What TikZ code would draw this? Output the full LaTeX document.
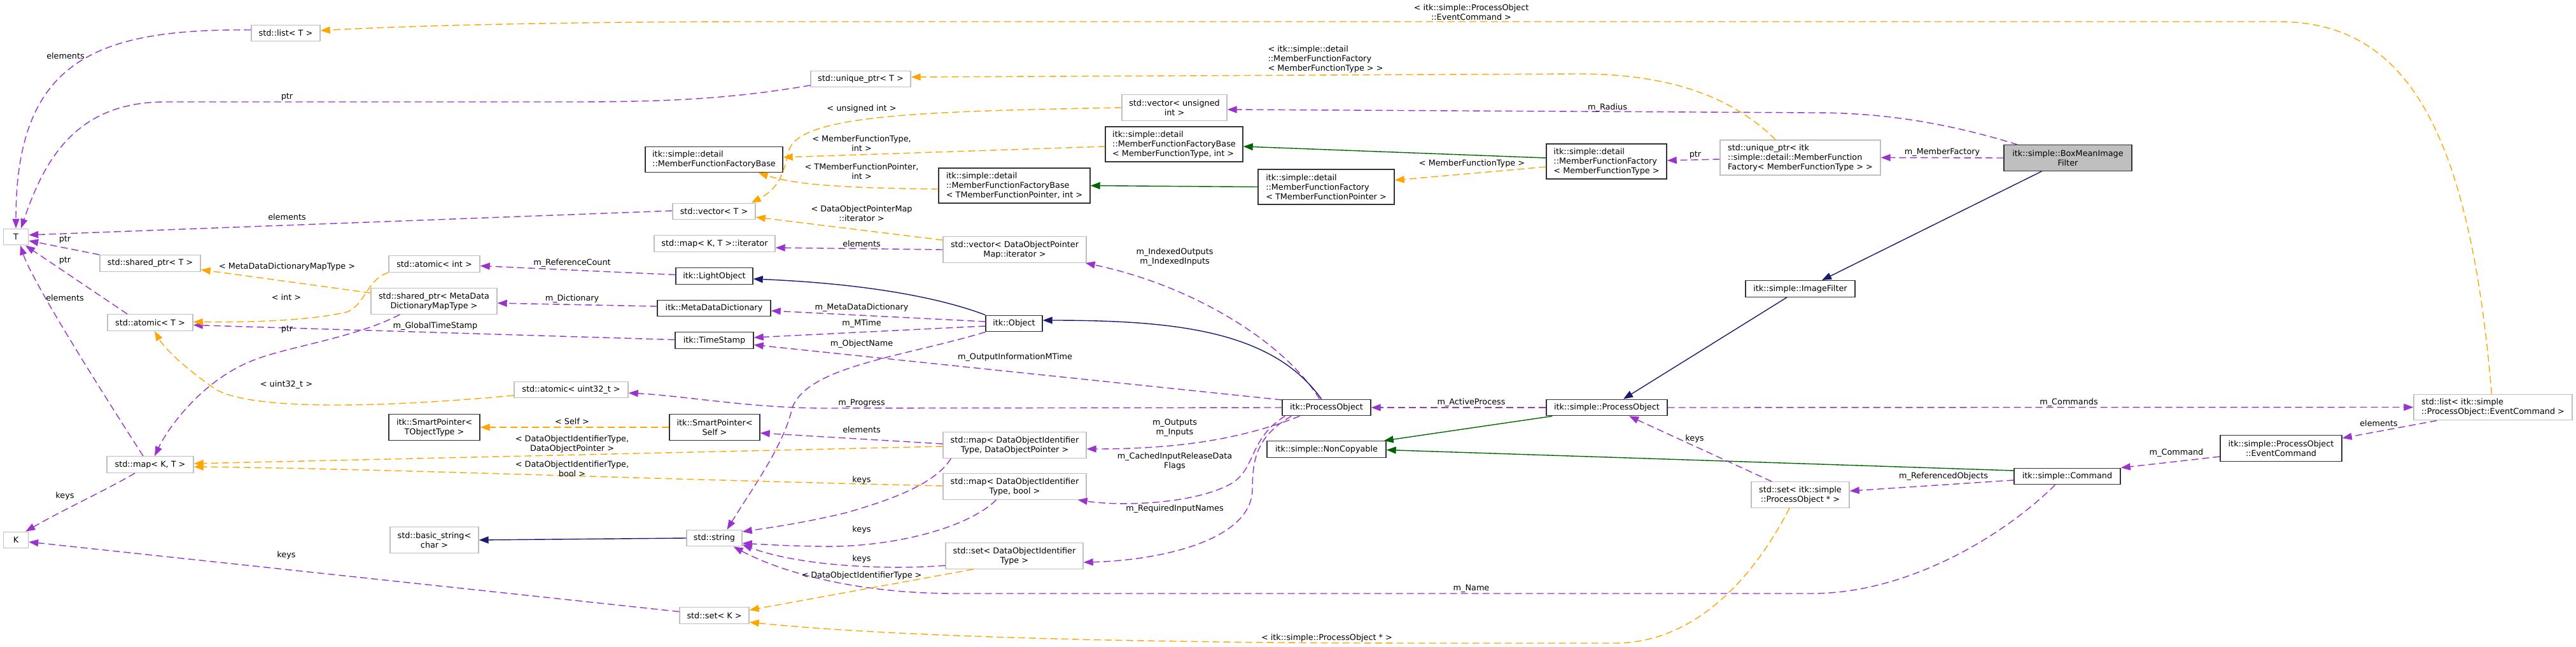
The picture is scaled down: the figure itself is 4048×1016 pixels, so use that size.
\documentclass[tikz,border=0pt]{standalone}
\usepackage{fontspec}
\setmainfont{DejaVu Sans}
\usetikzlibrary{arrows.meta}
\definecolor{usecol}{HTML}{9A32CD}
\definecolor{tmplcol}{HTML}{FFA500}
\definecolor{inhcol}{HTML}{191970}
\definecolor{protcol}{HTML}{006400}
\definecolor{undoccol}{HTML}{BFBFBF}
\definecolor{boxfill}{HTML}{BFBFBF}

\begin{document}
\begin{tikzpicture}[x=1pt,y=-1pt,font=\fontsize{12.8pt}{15pt}\selectfont,
 cls/.style={draw=black!80,line width=1.4pt,fill=white,inner xsep=5pt,inner ysep=3pt,minimum height=25.5pt,align=center},
 ext/.style={cls,draw=undoccol},
 two/.style={minimum height=40.5pt},
 three/.style={minimum height=55pt},
 usage/.style={draw=usecol,line width=1.4pt,dash pattern=on 11pt off 6pt,-{Triangle[length=15pt,width=11pt]}},
 tmpl/.style={usage,draw=tmplcol},
 inh/.style={draw=inhcol,line width=1.4pt,-{Triangle[length=15pt,width=11pt]}},
 prot/.style={inh,draw=protcol},
 lbl/.style={inner sep=0pt,align=center}]
\fill[white] (0,0) rectangle (4048,1016);

\node[ext,minimum width=108pt] (lstT) at (449,52) {std::list< T >};
\node[ext,minimum width=39pt] (T) at (25,372) {T};
\node[ext,minimum width=158pt] (shpT) at (236,413.5) {std::shared\_ptr< T >};
\node[ext,minimum width=134pt] (atmT) at (236,506.5) {std::atomic< T >};
\node[ext,minimum width=136pt] (mapKT) at (236,729.5) {std::map< K, T >};
\node[ext,minimum width=39pt] (K) at (25,848) {K};
\node[ext,minimum width=157pt] (uniqT) at (1352.5,124) {std::unique\_ptr< T >};
\node[cls,two,align=left,minimum width=216pt] (mffb) at (1122,250.5) {itk::simple::detail\\::MemberFunctionFactoryBase};
\node[ext,minimum width=130pt] (vecT) at (1122,332) {std::vector< T >};
\node[ext,minimum width=190pt] (mapIt) at (1123,382.5) {std::map< K, T >::iterator};
\node[ext,minimum width=143pt] (atmInt) at (682.5,414.5) {std::atomic< int >};
\node[cls,minimum width=121pt] (lobj) at (1122.5,433.5) {itk::LightObject};
\node[ext,two,minimum width=198pt] (shpMeta) at (682,473) {std::shared\_ptr< MetaData\\DictionaryMapType >};
\node[cls,minimum width=178pt] (mdd) at (1122,484) {itk::MetaDataDictionary};
\node[cls,minimum width=123pt] (tstamp) at (1122.5,534.5) {itk::TimeStamp};
\node[ext,minimum width=179pt] (atmU32) at (897.5,612) {std::atomic< uint32\_t >};
\node[cls,two,minimum width=143pt] (spTObj) at (682.5,671) {itk::SmartPointer<\\TObjectType >};
\node[cls,two,minimum width=142pt] (spSelf) at (1123,671) {itk::SmartPointer<\\Self >};
\node[ext,two,minimum width=139pt] (bstr) at (682.5,848) {std::basic\_string<\\char >};
\node[ext,minimum width=87pt] (str) at (1122.5,845) {std::string};
\node[ext,minimum width=109pt] (setK) at (1122.5,966.5) {std::set< K >};
\node[ext,two,minimum width=165pt] (vecUI) at (1845.5,169) {std::vector< unsigned\\int >};
\node[cls,three,align=left,minimum width=216pt] (mffbMFT) at (1845,226.5) {itk::simple::detail\\::MemberFunctionFactoryBase\\< MemberFunctionType, int >};
\node[cls,three,align=left,minimum width=238pt] (mffbTMFP) at (1594,291.5) {itk::simple::detail\\::MemberFunctionFactoryBase\\< TMemberFunctionPointer, int >};
\node[cls,three,align=left,minimum width=214pt] (mffTMFP) at (2084,293.5) {itk::simple::detail\\::MemberFunctionFactory\\< TMemberFunctionPointer >};
\node[ext,two,minimum width=225pt] (vecDOP) at (1594.5,392) {std::vector< DataObjectPointer\\Map::iterator >};
\node[cls,minimum width=89pt] (obj) at (1593.5,508) {itk::Object};
\node[cls,minimum width=139pt] (procObj) at (2084.5,640) {itk::ProcessObject};
\node[ext,two,minimum width=225pt] (mapDOP) at (1594.5,699) {std::map< DataObjectIdentifier\\Type, DataObjectPointer >};
\node[ext,two,minimum width=225pt] (mapBool) at (1594.5,764) {std::map< DataObjectIdentifier\\Type, bool >};
\node[ext,two,minimum width=216pt] (setDOIT) at (1594,873) {std::set< DataObjectIdentifier\\Type >};
\node[cls,minimum width=187pt] (noncp) at (2084.5,705.5) {itk::simple::NonCopyable};
\node[cls,three,align=left,minimum width=189pt] (mffMFT) at (2524.5,253.5) {itk::simple::detail\\::MemberFunctionFactory\\< MemberFunctionType >};
\node[ext,three,align=left,minimum width=252pt] (uniqMFF) at (2829,247.5) {std::unique\_ptr< itk\\::simple::detail::MemberFunction\\Factory< MemberFunctionType > >};
\node[cls,minimum width=172pt] (imgF) at (2829,453.5) {itk::simple::ImageFilter};
\node[cls,minimum width=190pt] (sProcObj) at (2525,640) {itk::simple::ProcessObject};
\node[ext,two,minimum width=154pt] (setPO) at (2829,777) {std::set< itk::simple\\::ProcessObject * >};
\node[cls,two,fill=boxfill,minimum width=201pt] (boxMean) at (3249.5,248) {itk::simple::BoxMeanImage\\Filter};
\node[ext,two,align=left,minimum width=249pt] (lstEC) at (3917.5,639.5) {std::list< itk::simple\\::ProcessObject::EventCommand >};
\node[cls,two,minimum width=191pt] (evCmd) at (3584.5,704) {itk::simple::ProcessObject\\::EventCommand};
\node[cls,minimum width=167pt] (cmd) at (3248.5,748) {itk::simple::Command};

\draw[usage] ([yshift=5pt]lstT.west) .. controls (150,45) and (25,95) .. (T.north);
\draw[usage] ([yshift=-10pt]uniqT.west) .. controls (1150,155) and (1050,160) .. (900,160) -- (260,160) .. controls (120,160) and (70,250) .. ([xshift=8pt]T.north);
\draw[usage] ([yshift=1pt]vecT.west) -- ([yshift=3pt]T.east);
\draw[usage] (shpT.north west) -- ([yshift=-6pt]T.east);
\draw[usage] ([xshift=-36pt]atmT.north) -- ([xshift=15pt]T.south);
\draw[usage] ([xshift=-11pt]mapKT.north) .. controls (150,600) and (50,440) .. ([xshift=7pt]T.south);
\draw[usage] ([xshift=-24pt]mapKT.south) .. controls (170,768) and (100,800) .. ([xshift=-5pt]K.north east);
\draw[usage] ([yshift=6pt]setK.west) -- ([yshift=-3pt]K.east);
\draw[usage] (vecDOP.west) -- ([yshift=-6.5pt]mapIt.east);
\draw[usage] ([yshift=2pt]lobj.west) -- ([yshift=-3pt]atmInt.east);
\draw[usage] ([yshift=3pt]mdd.west) -- ([yshift=-3pt]shpMeta.east);
\draw[usage] ([yshift=3pt]obj.west) -- ([yshift=-4pt]mdd.east);
\draw[usage] ([yshift=-4pt]obj.west) -- ([yshift=4.5pt]tstamp.east);
\draw[usage] (obj.south west) .. controls (1420,560) and (1270,575) .. (1245,640) .. controls (1232,700) and (1180,770) .. ([xshift=20pt]str.north);
\draw[usage] ([yshift=1pt]tstamp.west) -- ([yshift=-4pt]atmT.east);
\draw[usage] ([xshift=46pt]shpMeta.south west) .. controls (560,530) and (450,545) .. (400,565) .. controls (320,595) and (265,670) .. ([xshift=7pt]mapKT.north);
\draw[usage] (procObj.west) -- (1300,641) .. controls (1180,641) and (1080,622) .. ([yshift=-5pt]atmU32.east);
\draw[usage] ([yshift=12pt]procObj.west) -- ([yshift=-7pt]tstamp.east);
\draw[usage] ([xshift=-11pt]procObj.north) .. controls (2020,540) and (1880,450) .. ([xshift=-2pt]vecDOP.south east);
\draw[inh] ([xshift=-8pt]procObj.north) .. controls (2000,520) and (1850,503) .. ([yshift=5pt]obj.east);
\draw[inh] (obj.north west) .. controls (1470,465) and (1350,445) .. ([yshift=-4.5pt]lobj.east);
\draw[inh] (str.west) -- (bstr.east);
\draw[usage] ([xshift=28pt]procObj.south west) .. controls (1950,690) and (1850,705) .. ([yshift=-6pt]mapDOP.east);
\draw[usage] ([xshift=5pt]procObj.south west) .. controls (1960,690) and (1975,740) .. (1930,762) .. controls (1870,792) and (1760,795) .. ([xshift=-14pt]mapBool.south east);
\draw[usage] ([xshift=15pt]procObj.south west) .. controls (1975,685) and (1968,720) .. (1968,770) .. controls (1965,850) and (1820,880) .. ([yshift=-10pt]setDOIT.east);
\draw[usage] ([yshift=2pt]mapDOP.west) -- ([yshift=-9pt]spSelf.east);
\draw[tmpl] ([yshift=-2pt]mapDOP.west) -- ([yshift=1.5pt]mapKT.east);
\draw[tmpl] ([yshift=1pt]mapBool.west) .. controls (1000,752) and (600,736) .. ([yshift=-3.5pt]mapKT.east);
\draw[usage] ([xshift=13pt]mapDOP.south west) .. controls (1470,760) and (1400,785) .. (1330,805) .. controls (1260,822) and (1200,830) .. ([yshift=10pt]str.east);
\draw[usage] ([xshift=-29pt]mapBool.south) .. controls (1520,830) and (1400,860) .. (1290,858) .. controls (1230,857) and (1200,855) .. ([yshift=-8pt]str.east);
\draw[usage] ([yshift=-15pt]setDOIT.west) .. controls (1400,895) and (1260,890) .. ([yshift=3pt]str.south east);
\draw[usage] ([xshift=-19pt]cmd.south) .. controls (3150,840) and (3000,932) .. (2847,932) -- (1500,932) .. controls (1350,932) and (1230,900) .. ([xshift=-14pt]str.south east);
\draw[tmpl] (spSelf.west) -- (spTObj.east);
\draw[tmpl] ([xshift=44pt]setDOIT.south west) -- ([yshift=8.5pt]setK.east);
\draw[tmpl] ([xshift=-17pt]setPO.south) .. controls (2770,880) and (2680,1010) .. (2537,1010) -- (2250,1010) .. controls (1800,1010) and (1400,1000) .. ([yshift=-10.5pt]setK.east);
\draw[tmpl] ([yshift=-9pt]atmU32.west) .. controls (600,640) and (400,645) .. (340,612) .. controls (300,585) and (260,550) .. ([xshift=7pt]atmT.south);
\draw[tmpl] (atmInt.south west) .. controls (575,440) and (575,478) .. (545,490) .. controls (480,505) and (380,506) .. ([yshift=1pt]atmT.east);
\draw[tmpl] ([yshift=13pt]shpMeta.west) -- ([yshift=-10pt]shpT.east);
\draw[tmpl] (vecUI.west) .. controls (1450,175) and (1260,180) .. (1240,235) .. controls (1232,270) and (1225,295) .. ([xshift=-7pt]vecT.north east);
\draw[tmpl] ([yshift=-3.5pt]mffbMFT.west) -- ([yshift=3.5pt]mffb.east);
\draw[tmpl] ([yshift=-5.5pt]mffbTMFP.west) .. controls (1320,295) and (1250,290) .. ([xshift=-39pt]mffb.south east);
\draw[tmpl] ([yshift=15pt]vecDOP.west) -- ([yshift=-9pt]vecT.east);
\draw[prot] (mffTMFP.west) -- (mffbTMFP.east);
\draw[prot] ([yshift=5.5pt]mffMFT.west) -- ([yshift=-3.5pt]mffbMFT.east);
\draw[tmpl] ([yshift=-8.5pt]mffMFT.west) -- ([yshift=10.5pt]mffTMFP.east);
\draw[usage] ([yshift=-2.5pt]uniqMFF.west) -- ([yshift=1.5pt]mffMFT.east);
\draw[tmpl] ([xshift=-39pt]uniqMFF.north) .. controls (2720,150) and (2620,116) .. (2480,116) -- ([yshift=3pt]uniqT.east);
\draw[usage] (boxMean.west) -- (uniqMFF.east);
\draw[usage] ([xshift=22pt]boxMean.north west) .. controls (3050,190) and (2950,177) .. (2850,177) -- ([yshift=-3pt]vecUI.east);
\draw[inh] ([xshift=-41pt]boxMean.south) -- ([xshift=34pt]imgF.north);
\draw[inh] ([xshift=-21pt]imgF.south) -- ([xshift=26pt]sProcObj.north);
\draw[usage] (sProcObj.west) -- (procObj.east);
\draw[usage] (sProcObj.east) -- (lstEC.west);
\draw[prot] ([xshift=10pt]sProcObj.south west) -- ([xshift=-4pt]noncp.north east);
\draw[prot] ([yshift=9pt]cmd.west) -- ([yshift=-1pt]noncp.east);
\draw[usage] ([yshift=-6pt]cmd.west) -- ([yshift=6pt]setPO.east);
\draw[usage] ([xshift=-45pt]setPO.north) -- ([xshift=35pt]sProcObj.south);
\draw[usage] ([yshift=-13pt]evCmd.west) -- (cmd.north east);
\draw[usage] ([xshift=37pt]lstEC.south west) -- ([yshift=16pt]evCmd.east);
\draw[tmpl] ([xshift=-2pt]lstEC.north) .. controls (3880,200) and (3780,34) .. (3580,34) -- (1200,34) .. controls (900,34) and (650,40) .. ([yshift=4pt]lstT.east);

\node[lbl] (l1) at (103,88) {elements};
\node[lbl] (l2) at (451,152) {ptr};
\node[lbl] (l3) at (451,341) {elements};
\node[lbl] (l4) at (102,376) {ptr};
\node[lbl] (l5) at (102,409) {ptr};
\node[lbl] (l6) at (102,468) {elements};
\node[lbl] (l7) at (451,419) {< MetaDataDictionaryMapType >};
\node[lbl] (l8) at (450,467) {< int >};
\node[lbl] (l9) at (451,517) {ptr};
\node[lbl] (l10) at (684,512) {m\_GlobalTimeStamp};
\node[lbl] (l11) at (450,604) {< uint32\_t >};
\node[lbl] (l12) at (102,779) {keys};
\node[lbl] (l13) at (450,872) {keys};
\node[lbl] (l14) at (1354,171) {< unsigned int >};
\node[lbl] (l15) at (1354,225) {< MemberFunctionType,\\int >};
\node[lbl] (l16) at (1354,269) {< TMemberFunctionPointer,\\int >};
\node[lbl] (l17) at (1354,335) {< DataObjectPointerMap\\::iterator >};
\node[lbl] (l18) at (1354,383) {elements};
\node[lbl] (l19) at (899,413) {m\_ReferenceCount};
\node[lbl] (l20) at (899,469) {m\_Dictionary};
\node[lbl] (l21) at (1354,483) {m\_MetaDataDictionary};
\node[lbl] (l22) at (1354,508) {m\_MTime};
\node[lbl] (l23) at (1354,540) {m\_ObjectName};
\node[lbl] (l24) at (899,662) {< Self >};
\node[lbl] (l25) at (1354,675) {elements};
\node[lbl] (l26) at (899,697) {< DataObjectIdentifierType,\\DataObjectPointer >};
\node[lbl] (l27) at (899,736) {< DataObjectIdentifierType,\\bool >};
\node[lbl] (l28) at (1354,754) {keys};
\node[lbl] (l29) at (1354,633) {m\_Progress};
\node[lbl] (l30) at (1354,832) {keys};
\node[lbl] (l31) at (1354,878) {keys};
\node[lbl] (l32) at (1354,904) {< DataObjectIdentifierType >};
\node[lbl,align=left] (l33) at (2083,93) {< itk::simple::detail\\::MemberFunctionFactory\\< MemberFunctionType > >};
\node[lbl] (l34) at (1846,404) {m\_IndexedOutputs\\m\_IndexedInputs};
\node[lbl] (l35) at (1595,561) {m\_OutputInformationMTime};
\node[lbl] (l36) at (1846,672) {m\_Outputs\\m\_Inputs};
\node[lbl] (l37) at (1846,724) {m\_CachedInputReleaseData\\Flags};
\node[lbl] (l38) at (1846,799) {m\_RequiredInputNames};
\node[lbl] (l39) at (2085,1002) {< itk::simple::ProcessObject * >};
\node[lbl] (l40) at (2312,632) {m\_ActiveProcess};
\node[lbl] (l41) at (2312,924) {m\_Name};
\node[lbl] (l42) at (2663,689) {keys};
\node[lbl] (l43) at (3054,748) {m\_ReferencedObjects};
\node[lbl] (l44) at (2526,169) {m\_Radius};
\node[lbl] (l45) at (2664,243) {ptr};
\node[lbl] (l46) at (3052,239) {m\_MemberFactory};
\node[lbl] (l47) at (2313,257) {< MemberFunctionType >};
\node[lbl] (l48) at (3251,632) {m\_Commands};
\node[lbl] (l49) at (3738,665) {elements};
\node[lbl] (l50) at (3420,711) {m\_Command};
\node[lbl] (l51) at (2312,19) {< itk::simple::ProcessObject\\::EventCommand >};
\end{tikzpicture}
\end{document}
